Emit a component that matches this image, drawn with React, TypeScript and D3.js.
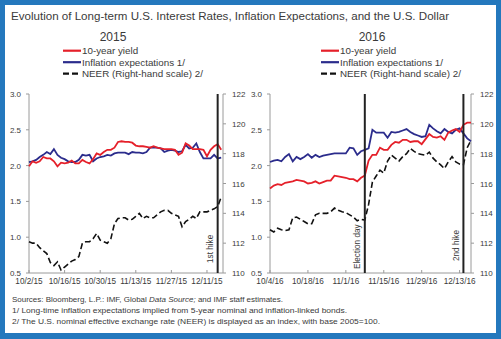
import React from 'react';
import * as d3 from 'd3';

// ---------- DATA ----------
const xLabels2015 = ['10/2/15', '10/16/15', '10/30/15', '11/13/15', '11/27/15', '12/11/15'];
const xLabels2016 = ['10/4/16', '10/18/16', '11/1/16', '11/15/16', '11/29/16', '12/13/16'];
const xTickIdx = [0, 10, 20, 30, 40, 50];

// business-day series, 10/2/15 .. 12/17/15
const yield2015 = [1.99, 2.06, 2.04, 2.06, 2.12, 2.10, 2.10, 2.06, 1.99, 2.04, 2.03, 2.04, 2.07, 2.03, 2.03, 2.08, 2.05, 2.03, 2.09, 2.17, 2.15, 2.19, 2.22, 2.22, 2.25, 2.33, 2.34, 2.33, 2.33, 2.32, 2.28, 2.27, 2.27, 2.26, 2.25, 2.27, 2.25, 2.24, 2.23, 2.23, 2.23, 2.22, 2.15, 2.18, 2.31, 2.28, 2.23, 2.23, 2.23, 2.22, 2.13, 2.22, 2.27, 2.30, 2.22];
const infl2015 = [2.05, 2.06, 2.08, 2.12, 2.15, 2.19, 2.16, 2.23, 2.15, 2.11, 2.09, 2.06, 2.05, 2.05, 2.08, 2.15, 2.14, 2.15, 2.06, 2.10, 2.12, 2.13, 2.15, 2.14, 2.17, 2.18, 2.18, 2.18, 2.16, 2.19, 2.18, 2.18, 2.17, 2.19, 2.25, 2.25, 2.25, 2.24, 2.19, 2.21, 2.22, 2.21, 2.19, 2.20, 2.29, 2.24, 2.25, 2.31, 2.19, 2.10, 2.10, 2.10, 2.15, 2.10, 2.11];
const neer2015 = [112.1, 112.0, 112.0, 111.7, 111.5, 111.3, 110.7, 110.5, 110.75, 110.2, 110.4, 110.6, 110.8, 110.9, 111.1, 112.0, 112.1, 112.1, 112.3, 112.65, 112.2, 112.1, 112.0, 112.3, 113.3, 113.65, 113.7, 113.7, 113.55, 113.6, 113.8, 114.0, 113.65, 113.8, 113.7, 113.7, 113.9, 114.1, 114.2, 114.2, 114.0, 113.9, 113.8, 113.1, 113.45, 113.6, 113.8, 113.65, 114.1, 114.1, 114.1, 114.2, 114.3, 114.45, 115.1];

// business-day series, 10/4/16 .. 12/16/16
const yield2016 = [1.68, 1.72, 1.74, 1.73, 1.76, 1.77, 1.78, 1.80, 1.79, 1.78, 1.75, 1.76, 1.78, 1.75, 1.77, 1.79, 1.79, 1.86, 1.85, 1.84, 1.83, 1.81, 1.81, 1.78, 1.83, 1.86, 2.07, 2.15, 2.15, 2.25, 2.22, 2.22, 2.29, 2.33, 2.32, 2.36, 2.36, 2.33, 2.34, 2.34, 2.30, 2.37, 2.44, 2.40, 2.39, 2.41, 2.36, 2.46, 2.49, 2.51, 2.47, 2.57, 2.60, 2.60];
const infl2016 = [2.05, 2.07, 2.08, 2.06, 2.12, 2.16, 2.06, 2.12, 2.09, 2.12, 2.16, 2.11, 2.15, 2.12, 2.14, 2.15, 2.16, 2.17, 2.17, 2.17, 2.17, 2.25, 2.24, 2.15, 2.20, 2.22, 2.24, 2.50, 2.46, 2.46, 2.46, 2.39, 2.47, 2.46, 2.47, 2.49, 2.51, 2.47, 2.44, 2.42, 2.40, 2.41, 2.57, 2.52, 2.48, 2.45, 2.51, 2.47, 2.45, 2.50, 2.52, 2.45, 2.38, 2.34];
const neer2016 = [112.9, 112.75, 113.0, 112.9, 112.85, 112.9, 113.7, 113.75, 113.6, 113.45, 113.3, 113.3, 113.9, 114.0, 114.0, 114.0, 114.1, 114.35, 114.2, 114.1, 114.05, 113.9, 113.75, 113.5, 113.6, 113.55, 114.6, 116.1, 116.5, 116.9, 116.7, 117.5, 117.9, 117.7, 117.5, 117.8, 118.0, 118.35, 118.15, 118.0, 117.95, 117.9, 118.1, 117.7, 117.45, 117.25, 117.0, 117.45, 117.8, 117.45, 117.3, 117.25, 118.4, 118.9];

const leftTicks = [0.5, 1.0, 1.5, 2.0, 2.5, 3.0];
const rightTicks = [110, 112, 114, 116, 118, 120, 122];
const legendLabels = ['10-year yield', 'Inflation expectations 1/', 'NEER (Right-hand scale) 2/'];
const events2015 = [{ idx: 53, label: '1st hike', bottom: 263 }];
const events2016 = [
  { idx: 25, label: 'Election day', bottom: 269 },
  { idx: 51, label: '2nd hike', bottom: 261 },
];

const RED = '#e5202a';
const NAVY = '#2b2c8c';
const FRAME = '#2478bd';
const TXT = '#3a3a3a';
const AXIS = '#9a9a9a';
const FONT = '"Liberation Sans", Arial, sans-serif';

const yTop = 94;
const yBot = 273;
const yL = d3.scaleLinear().domain([0.5, 3.0]).range([yBot, yTop]);
const yR = d3.scaleLinear().domain([110, 122]).range([yBot, yTop]);

type Ev = { idx: number; label: string; bottom: number };
type PanelProps = {
  year: string;
  yearX: number;
  legendX: number;
  x0: number;
  x1: number;
  xMax: number;
  xLabels: string[];
  yld: number[];
  infl: number[];
  neer: number[];
  events: Ev[];
};

function Panel(p: PanelProps) {
  const x = d3.scaleLinear().domain([0, p.xMax]).range([p.x0, p.x1]);
  const lineL = d3.line<number>().x((_, i) => x(i)).y((d) => yL(d));
  const lineR = d3.line<number>().x((_, i) => x(i)).y((d) => yR(d));
  const legRows = [50.7, 62.2, 73.7];
  const legStyles = [
    { stroke: RED, dash: undefined },
    { stroke: NAVY, dash: undefined },
    { stroke: '#111', dash: '6,3' },
  ];
  return (
    <g>
      <text x={p.yearX} y={40.5} fontSize={12} textAnchor="middle" fill={TXT} fontFamily={FONT}>{p.year}</text>
      {legendLabels.map((lab, k) => (
        <g key={lab}>
          <line x1={p.legendX} x2={p.legendX + 18} y1={legRows[k]} y2={legRows[k]} stroke={legStyles[k].stroke} strokeWidth={2.2} strokeDasharray={legStyles[k].dash} />
          <text x={p.legendX + 19} y={legRows[k] + 3.5} fontSize={9.8} fill={TXT} fontFamily={FONT}>{lab}</text>
        </g>
      ))}
      {/* axes */}
      <line x1={p.x0} x2={p.x0} y1={yTop} y2={yBot} stroke={AXIS} strokeWidth={1} />
      <line x1={p.x1} x2={p.x1} y1={yTop} y2={yBot} stroke={AXIS} strokeWidth={1} />
      <line x1={p.x0} x2={p.x1} y1={yBot} y2={yBot} stroke={AXIS} strokeWidth={1} />
      {leftTicks.map((t) => (
        <g key={'l' + t}>
          <line x1={p.x0 - 3} x2={p.x0} y1={yL(t)} y2={yL(t)} stroke={AXIS} />
          <text x={p.x0 - 8} y={yL(t) + 3} fontSize={8} textAnchor="end" fill={TXT} fontFamily={FONT}>{d3.format('.1f')(t)}</text>
        </g>
      ))}
      {rightTicks.map((t) => (
        <g key={'r' + t}>
          <line x1={p.x1} x2={p.x1 + 3} y1={yR(t)} y2={yR(t)} stroke={AXIS} />
          <text x={p.x1 + 9} y={yR(t) + 3} fontSize={8} textAnchor="start" fill={TXT} fontFamily={FONT}>{t}</text>
        </g>
      ))}
      {xTickIdx.map((ti, k) => (
        <g key={'x' + ti}>
          <line x1={x(ti)} x2={x(ti)} y1={yBot} y2={yBot - 3} stroke={AXIS} />
          <text x={x(ti)} y={284} fontSize={8.2} textAnchor="middle" fill={TXT} fontFamily={FONT}>{p.xLabels[k]}</text>
        </g>
      ))}
      {/* series */}
      <path d={lineR(p.neer) || ''} fill="none" stroke="#111" strokeWidth={1.6} strokeDasharray="6,3" />
      <path d={lineL(p.infl) || ''} fill="none" stroke={NAVY} strokeWidth={1.8} />
      <path d={lineL(p.yld) || ''} fill="none" stroke={RED} strokeWidth={1.8} />
      {/* events */}
      {p.events.map((e) => (
        <g key={e.label}>
          <line x1={x(e.idx)} x2={x(e.idx)} y1={yTop} y2={yBot} stroke="#222" strokeWidth={2} />
          <text transform={`translate(${x(e.idx) - 4.5},${e.bottom}) rotate(-90)`} fontSize={8.2} fill={TXT} fontFamily={FONT}>{e.label}</text>
        </g>
      ))}
    </g>
  );
}

export default function App() {
  return (
    <svg width={501} height={339} style={{ position: 'fixed', left: 0, top: 0 }} xmlns="http://www.w3.org/2000/svg">
      <rect x={0} y={0} width={501} height={339} fill={FRAME} />
      <rect x={5} y={5} width={491} height={328} fill="#fff" />
      <text x={11} y={19.5} fontSize={10.5} fill={TXT} fontFamily={FONT} textLength={438} lengthAdjust="spacingAndGlyphs">
        Evolution of Long-term U.S. Interest Rates, Inflation Expectations, and the U.S. Dollar
      </text>
      <Panel year="2015" yearX={113} legendX={63} x0={29} x1={223} xMax={54.5} xLabels={xLabels2015} yld={yield2015} infl={infl2015} neer={neer2015} events={events2015} />
      <Panel year="2016" yearX={372} legendX={321} x0={270} x1={471} xMax={53} xLabels={xLabels2016} yld={yield2016} infl={infl2016} neer={neer2016} events={events2016} />
      <text x={12} y={302} fontSize={7.5} fill={TXT} fontFamily={FONT} textLength={271} lengthAdjust="spacingAndGlyphs">
        Sources: Bloomberg, L.P.: IMF, Global <tspan fontStyle="italic">Data Source;</tspan> and IMF staff estimates.
      </text>
      <text x={12} y={313} fontSize={7.5} fill={TXT} fontFamily={FONT} textLength={335} lengthAdjust="spacingAndGlyphs">
        1/ Long-time inflation expectations implied from 5-year nominal and inflation-linked bonds.
      </text>
      <text x={12} y={324} fontSize={7.5} fill={TXT} fontFamily={FONT} textLength={368} lengthAdjust="spacingAndGlyphs">
        2/ The U.S. nominal effective exchange rate (NEER) is displayed as an index, with base 2005=100.
      </text>
    </svg>
  );
}
